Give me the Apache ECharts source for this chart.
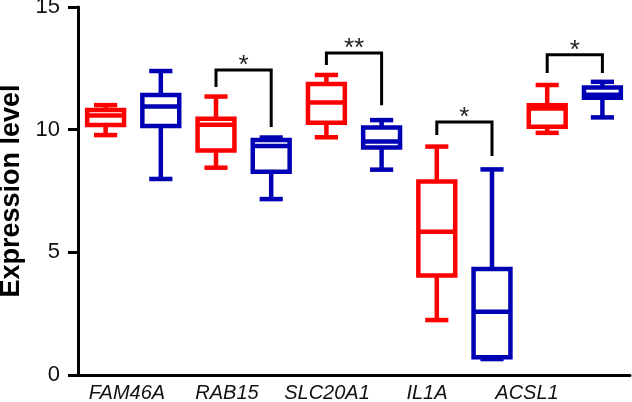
<!DOCTYPE html>
<html>
<head>
<meta charset="utf-8">
<script src="https://cdn.jsdelivr.net/npm/echarts@6/dist/echarts.min.js"></script>
<style>
html,body{margin:0;padding:0;background:#fff;}
#chart{width:632px;height:402px;}
</style>
</head>
<body>
<div id="chart"></div>
<script>
// ---- data ----
const categories = ['FAM46A', 'RAB15', 'SLC20A1', 'IL1A', 'ACSL1'];
const yTicks = [0, 5, 10, 15];
// each entry: [min, Q1, median, Q3, max]
const redGroup = [
  [9.78, 10.19, 10.58, 10.80, 11.00],
  [8.45, 9.15, 10.20, 10.45, 11.35],
  [9.69, 10.28, 11.11, 11.86, 12.23],
  [2.24, 4.06, 5.84, 7.89, 9.31],
  [9.87, 10.12, 10.86, 11.00, 11.82]
];
const blueGroup = [
  [7.99, 10.15, 10.94, 11.41, 12.39],
  [7.17, 8.28, 9.33, 9.58, 9.68],
  [8.37, 9.27, 9.52, 10.09, 10.39],
  [0.65, 0.72, 2.58, 4.32, 8.38],
  [10.50, 11.30, 11.42, 11.72, 11.95]
];
// significance brackets
const sigCategories = ['RAB15', 'SLC20A1', 'IL1A', 'ACSL1'];
const sigTop = [12.43, 13.13, 10.31, 13.05];
const sigLeftEnd = [11.74, 12.64, 9.78, 12.31];
const sigRightEnd = [10.11, 11.00, 8.93, 12.31];
const sigLabels = ['*', '**', '*', '*'];

// ---- styles ----
const RED = '#ff0000';
const BLUE = '#0000b4';
const LW = 4.5;

function boxRenderer(offsetFrac, color) {
  return function (params, api) {
    const idx = api.value(0);
    const band = api.size([1, 0])[0];
    const cx = api.coord([idx, 0])[0] + band * offsetFrac;
    const hw = band * 0.167;
    const cw = band * 0.105;
    const yMin = api.coord([idx, api.value(1)])[1];
    const yQ1 = api.coord([idx, api.value(2)])[1];
    const yMed = api.coord([idx, api.value(3)])[1];
    const yQ3 = api.coord([idx, api.value(4)])[1];
    const yMax = api.coord([idx, api.value(5)])[1];
    const st = { stroke: color, lineWidth: LW, fill: null };
    return {
      type: 'group',
      children: [
        { type: 'line', shape: { x1: cx, y1: yMax, x2: cx, y2: yQ3 }, style: st },
        { type: 'line', shape: { x1: cx, y1: yQ1, x2: cx, y2: yMin }, style: st },
        { type: 'line', shape: { x1: cx - cw, y1: yMax, x2: cx + cw, y2: yMax }, style: st },
        { type: 'line', shape: { x1: cx - cw, y1: yMin, x2: cx + cw, y2: yMin }, style: st },
        { type: 'rect', shape: { x: cx - hw, y: yQ3, width: hw * 2, height: yQ1 - yQ3 },
          style: { stroke: color, lineWidth: LW, fill: '#ffffff' } },
        { type: 'line', shape: { x1: cx - hw, y1: yMed, x2: cx + hw, y2: yMed }, style: st }
      ]
    };
  };
}

function sigRenderer(params, api) {
  const idx = api.value(0);
  const band = api.size([1, 0])[0];
  const c = api.coord([idx, 0])[0];
  const xl = c - band * 0.25;
  const xr = c + band * 0.25;
  const yt = api.coord([idx, api.value(1)])[1];
  const yl = api.coord([idx, api.value(2)])[1];
  const yr = api.coord([idx, api.value(3)])[1];
  const st = { stroke: '#000', lineWidth: 3, fill: null, lineJoin: 'miter' };
  return {
    type: 'group',
    children: [
      { type: 'polyline', shape: { points: [[xl, yl], [xl, yt], [xr, yt], [xr, yr]] }, style: st },
      { type: 'text', style: { text: sigLabels[params.dataIndex], x: c, y: yt - 4,
          align: 'center', verticalAlign: 'middle',
          fontFamily: 'Liberation Sans, Arial, sans-serif', fontSize: 26, fill: '#222' } }
    ]
  };
}

const redData = redGroup.map((v, i) => [i].concat(v));
const blueData = blueGroup.map((v, i) => [i].concat(v));
const sigData = sigCategories.map((c, i) => [categories.indexOf(c), sigTop[i], sigLeftEnd[i], sigRightEnd[i]]);

const chart = echarts.init(document.getElementById('chart'), null, { renderer: 'canvas' });
chart.setOption({
  animation: false,
  backgroundColor: '#ffffff',
  grid: [
    { left: 78, right: 2, top: 7, bottom: 27, containLabel: false, outerBoundsMode: 'none' },
    { left: 77, right: 55, top: 7, bottom: 27, containLabel: false, outerBoundsMode: 'none' }
  ],
  xAxis: [
    {
      type: 'category', gridIndex: 0, data: categories,
      axisLine: { lineStyle: { color: '#000', width: 3 } },
      axisTick: { show: false }, axisLabel: { show: false }, splitLine: { show: false }
    },
    {
      type: 'category', gridIndex: 1, data: categories,
      axisLine: { show: false }, axisTick: { show: false }, splitLine: { show: false },
      axisLabel: { interval: 0, fontFamily: 'Liberation Sans, Arial, sans-serif', fontStyle: 'italic',
        fontSize: 20, color: '#111', margin: 8 }
    }
  ],
  yAxis: [
    {
      type: 'value', gridIndex: 0, min: 0, max: 15, interval: 5,
      name: 'Expression level', nameLocation: 'middle', nameGap: 48,
      nameTextStyle: { fontFamily: 'Liberation Sans, Arial, sans-serif', fontWeight: 'bold',
        fontSize: 27, color: '#000' },
      axisLine: { show: true, lineStyle: { color: '#000', width: 3 } },
      axisTick: { show: true, length: 10, lineStyle: { color: '#000', width: 3 } },
      axisLabel: { fontFamily: 'Liberation Sans, Arial, sans-serif', fontSize: 22, color: '#111', margin: 18,
        formatter: v => (yTicks.indexOf(v) >= 0 ? String(v) : '') },
      splitLine: { show: false }
    },
    { type: 'value', gridIndex: 1, min: 0, max: 15, show: false }
  ],
  series: [
    { type: 'custom', name: 'red', xAxisIndex: 0, yAxisIndex: 0, renderItem: boxRenderer(-0.25, RED),
      data: redData, encode: { x: 0, y: [1, 2, 3, 4, 5] }, clip: false },
    { type: 'custom', name: 'blue', xAxisIndex: 0, yAxisIndex: 0, renderItem: boxRenderer(0.25, BLUE),
      data: blueData, encode: { x: 0, y: [1, 2, 3, 4, 5] }, clip: false },
    { type: 'custom', name: 'sig', xAxisIndex: 0, yAxisIndex: 0, renderItem: sigRenderer,
      data: sigData, encode: { x: 0, y: [1, 2, 3] }, clip: false }
  ]
});
</script>
</body>
</html>
